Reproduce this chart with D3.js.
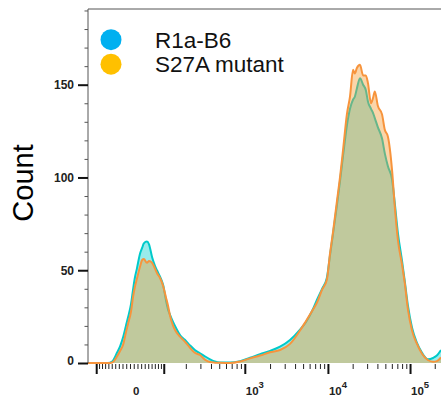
<!DOCTYPE html>
<html>
<head>
<meta charset="utf-8">
<script src="https://cdn.jsdelivr.net/npm/d3@7"></script>
<style>
  body { margin: 0; background: #fff; }
  text { font-family: Arial, 'Liberation Sans', sans-serif; }
</style>
</head>
<body>
<svg></svg>
<script>
// DATA (histogram channels on the logicle display, 0-1024)

var channels = [0, 35, 58, 70, 84, 93, 102, 110, 116, 125, 131, 136, 142, 151, 157, 162, 171, 177, 186, 194,
  200, 209, 218, 226, 232, 238, 247, 255, 267, 281, 296, 310, 325, 339, 354, 368, 383, 412, 441, 470,
  499, 528, 557, 586, 615, 632, 650, 664, 679, 693, 702, 711, 722, 731, 740, 751, 760, 769, 774, 780,
  789, 798, 806, 812, 821, 827, 832, 841, 853, 861, 870, 882, 890, 899, 911, 919, 928, 940, 954, 969,
  986, 1001, 1012, 1024];

var r1aB6 = [0, 0, 0, 0.8, 5.5, 9, 14, 20, 24.5, 32, 40, 46, 51, 59, 62, 64.5, 65.5, 64, 57, 52.5,
  50, 46.5, 42, 34, 29, 26, 22, 19, 15, 12.5, 9.5, 7, 5.2, 3.6, 2, 0.8, 0.3, 0.3, 1, 2.8,
  4.8, 6.5, 8.8, 12.4, 18, 22, 28, 34, 40, 46, 58, 70, 85, 98, 112, 128, 137, 142, 143.5, 148,
  153.5, 150, 147, 141, 137, 134.7, 132, 127, 121, 113, 106, 99, 86, 70, 55, 44, 31, 19, 11, 5.5,
  2, 2.7, 4, 7];

var s27a = [0, 0, 0, 0.3, 3.5, 6.5, 10, 16.5, 21, 28, 36, 41, 45.5, 52, 55.5, 56, 54, 55, 54, 51,
  48.5, 45.8, 41.5, 35.5, 31, 25.5, 20, 17, 14.2, 11.5, 8.2, 5.5, 4.3, 1.8, 0.5, 0.2, 0.1, 0, 0.8, 2.5,
  4, 5.8, 7, 10.3, 17.5, 22.5, 28, 32.5, 39.5, 45, 59, 71, 87, 100, 115, 134, 143.6, 158, 156, 159,
  160.7, 155, 155, 151, 140, 143, 146.4, 138.5, 134, 125.7, 122, 104, 84.3, 66.3, 53, 43, 29, 17.5, 10.4, 5,
  1.6, 0.7, 1, 3];

var seriesNames = ['R1a-B6', 'S27A mutant'];
var legendColors = ['#00B0F0', '#FFC000'];

var countTicks = [0, 50, 100, 150];
var countMinorTicks = [10, 20, 30, 40, 60, 70, 80, 90, 110, 120, 130, 140, 160, 170, 180, 190];

var xLabelValues = [0, 1000, 10000, 100000];
var xLabelPowers = ['', '3', '4', '5'];
var xMajorValues = [-100, 100, 1000, 10000, 100000];
var xMinorValues = [-90, -80, -70, -60, -50, -40, -30, -20, -10, 0, 10, 20, 30, 40, 50, 60, 70, 80, 90,
  200, 300, 400, 500, 600, 700, 800, 900,
  2000, 3000, 4000, 5000, 6000, 7000, 8000, 9000,
  20000, 30000, 40000, 50000, 60000, 70000, 80000, 90000, 200000];

// logicle (biexponential) display, in decades
var logicleK = 38.4;
var logicleP = 1.465;

function logicleValue(u) {
  var a = Math.abs(u);
  var p2 = logicleP * logicleP;
  var v = logicleK * (Math.pow(10, a) - p2 * Math.pow(10, -a / logicleP) + p2 - 1);
  return u < 0 ? -v : v;
}

function toDecades(v) {
  var lo = -3, hi = 7;
  for (var i = 0; i < 60; i++) {
    var mid = (lo + hi) / 2;
    if (logicleValue(mid) < v) lo = mid; else hi = mid;
  }
  return (lo + hi) / 2;
}

var svgWidth = 441;
var svgHeight = 401;
var plotLeft = 88, plotRight = 441, plotTop = 9, plotBottom = 363;

var x = d3.scaleLinear().domain([0, 1024]).range([plotLeft, plotRight]);
var xDecades = d3.scaleLinear().domain([-0.512, 3.793]).range([plotLeft, plotRight]);
var y = d3.scaleLinear().domain([0, 190.8]).range([plotBottom, plotTop]);

var svg = d3.select('svg')
  .attr('width', svgWidth)
  .attr('height', svgHeight);

// HISTOGRAMS

var area = d3.area()
  .x(function(d, i) { return x(channels[i]); })
  .y0(y(0))
  .y1(function(d) { return y(d); })
  .curve(d3.curveMonotoneX);

var line = d3.line()
  .x(function(d, i) { return x(channels[i]); })
  .y(function(d) { return y(d); })
  .curve(d3.curveMonotoneX);

var series = [
  { values: r1aB6, fill: 'rgba(0,204,204,0.4)', stroke: 'rgb(0,202,202)' },
  { values: s27a, fill: 'rgba(245,155,50,0.42)', stroke: 'rgb(247,148,60)' }
];

series.forEach(function(s) {
  svg.append('path')
    .attr('d', area(s.values))
    .attr('fill', s.fill);
  svg.append('path')
    .attr('d', line(s.values))
    .attr('fill', 'none')
    .attr('stroke', s.stroke)
    .attr('stroke-width', 2)
    .attr('stroke-linejoin', 'round');
});

// FRAME

svg.append('line')
  .attr('x1', plotLeft).attr('x2', plotLeft)
  .attr('y1', plotTop).attr('y2', plotBottom)
  .attr('stroke', '#555').attr('stroke-width', 1);

svg.append('line')
  .attr('x1', plotLeft).attr('x2', plotRight)
  .attr('y1', plotTop).attr('y2', plotTop)
  .attr('stroke', '#555').attr('stroke-width', 1);

// Y AXIS

var yMinor = svg.append('g')
  .attr('transform', 'translate(' + plotLeft + ',0)')
  .call(d3.axisLeft(y).tickValues(countMinorTicks).tickSize(3.5).tickFormat(''));
yMinor.select('.domain').remove();
yMinor.selectAll('line').attr('stroke', '#555').attr('stroke-width', 1);

var yMajor = svg.append('g')
  .attr('transform', 'translate(' + plotLeft + ',0)')
  .call(d3.axisLeft(y).tickValues(countTicks).tickSize(10).tickPadding(4));
yMajor.select('.domain').remove();
yMajor.selectAll('line').attr('stroke', '#111').attr('stroke-width', 2);
yMajor.selectAll('text')
  .attr('font-family', 'Arial, Liberation Sans, sans-serif')
  .attr('font-size', 12)
  .attr('font-weight', 'bold')
  .attr('fill', '#222')
  .attr('dy', function(d) { return d === 0 ? '0.15em' : '0.32em'; });

svg.append('text')
  .attr('transform', 'translate(33,183) rotate(-90)')
  .attr('text-anchor', 'middle')
  .attr('font-size', 29)
  .attr('fill', '#000')
  .text('Count');

// X AXIS

var xMinor = svg.append('g')
  .attr('transform', 'translate(0,' + (plotBottom + 1) + ')')
  .call(d3.axisBottom(xDecades).tickValues(xMinorValues.map(toDecades)).tickSize(5).tickFormat(''));
xMinor.select('.domain').remove();
xMinor.selectAll('line').attr('stroke', '#222').attr('stroke-width', 1);

var xMajor = svg.append('g')
  .attr('transform', 'translate(0,' + (plotBottom + 1) + ')')
  .call(d3.axisBottom(xDecades).tickValues(xMajorValues.map(toDecades)).tickSize(10).tickFormat(''));
xMajor.select('.domain').remove();
xMajor.selectAll('line').attr('stroke', '#111').attr('stroke-width', 2);

var xLabels = svg.selectAll('.xlabel')
  .data(xLabelValues)
  .enter()
  .append('text')
  .attr('class', 'xlabel')
  .attr('x', function(d) { return xDecades(toDecades(d)) + (d === 0 ? 3 : 1); })
  .attr('y', 394.5)
  .attr('font-size', 11.5)
  .attr('font-weight', 'bold')
  .attr('fill', '#222');

xLabels.append('tspan')
  .text(function(d) { return d === 0 ? '0' : '10'; });

xLabels.append('tspan')
  .attr('font-size', 9.5)
  .attr('dy', -6.5)
  .text(function(d, i) { return xLabelPowers[i]; });

// LEGEND

var legend = svg.selectAll('.legend')
  .data(seriesNames)
  .enter()
  .append('g')
  .attr('class', 'legend')
  .attr('transform', function(d, i) { return 'translate(111,' + (39.7 + i * 24.5) + ')'; });

legend.append('circle')
  .attr('r', 10.5)
  .attr('fill', function(d, i) { return legendColors[i]; });

legend.append('text')
  .attr('x', 44)
  .attr('y', 7.8)
  .attr('font-size', 22.5)
  .attr('fill', '#111')
  .text(function(d) { return d; });
</script>
</body>
</html>
